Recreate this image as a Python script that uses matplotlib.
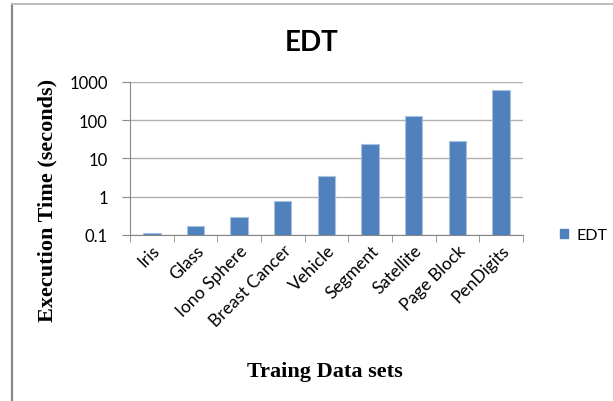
import matplotlib.pyplot as plt
from matplotlib.lines import Line2D
from matplotlib.patches import Patch
from matplotlib.ticker import FixedLocator, FixedFormatter, NullFormatter

# data
datasets = ['Iris', 'Glass', 'Iono Sphere', 'Breast Cancer', 'Vehicle',
            'Segment', 'Satellite', 'Page Block', 'PenDigits']
edt_times = [0.115, 0.17, 0.29, 0.77, 3.5, 24, 125, 28, 600]
ytick_vals = [0.1, 1, 10, 100, 1000]
ytick_labels = ['0.1', '1', '10', '100', '1000']

bar_color = '#4F81BD'
grey = '#888888'

fig = plt.figure(figsize=(6.13, 4.02), dpi=100)
ax = fig.add_axes([0.212, 0.413, 0.641, 0.381])

x = range(len(datasets))
ax.bar(x, edt_times, width=0.4, color=bar_color, edgecolor='#a9c0de',
       linewidth=0.8, zorder=3, bottom=0.0)

ax.set_yscale('log')
ax.set_ylim(0.1, 1000)
ax.set_xlim(-0.5, len(datasets) - 0.5)

ax.yaxis.set_major_locator(FixedLocator(ytick_vals))
ax.yaxis.set_major_formatter(FixedFormatter(ytick_labels))
ax.yaxis.set_minor_locator(FixedLocator([]))
ax.yaxis.set_minor_formatter(NullFormatter())
ax.grid(axis='y', color='#b0b0b0', linewidth=1.0, zorder=0)

ax.set_xticks(list(x))
ax.set_xticklabels(datasets, rotation=45, ha='right', rotation_mode='anchor',
                   fontsize=12.5, family='Lato')
ax.set_xticks([i - 0.5 for i in range(len(datasets) + 1)], minor=True)
ax.tick_params(axis='x', which='major', length=0, pad=5)
ax.tick_params(axis='x', which='minor', length=5, color=grey, direction='out')
ax.tick_params(axis='y', which='major', length=6, color=grey, pad=10,
               labelsize=12)
for lbl in ax.get_yticklabels():
    lbl.set_family('Lato')

for side in ['top', 'right']:
    ax.spines[side].set_visible(False)
ax.spines['left'].set_color(grey)
ax.spines['bottom'].set_color(grey)

fig.text(0.508, 0.893, 'EDT', ha='center', va='center', fontsize=20,
         fontweight='bold', family='Lato')
fig.text(0.077, 0.502, 'Execution Time (seconds)', ha='center', va='center',
         rotation=90, fontsize=16, fontweight='bold', family='Liberation Serif')
fig.text(0.53, 0.075, 'Traing Data sets', ha='center', va='center',
         fontsize=16, fontweight='bold', family='Liberation Serif')

ax.legend(handles=[Patch(color=bar_color, label='EDT')], loc='center left',
          bbox_to_anchor=(1.065, 0.0), frameon=False, handlelength=0.55,
          handleheight=0.55, handletextpad=0.5, borderpad=0.2,
          prop={'family': 'Lato', 'size': 11.5})

# chart border lines (left and top)
fig.add_artist(Line2D([0.019, 0.019], [0, 0.987], transform=fig.transFigure,
                      color='#8a8a8a', linewidth=1.6))
fig.add_artist(Line2D([0.019, 1], [0.987, 0.987], transform=fig.transFigure,
                      color='#bdbdbd', linewidth=1.4))

fig.savefig('out.png', dpi=100)
